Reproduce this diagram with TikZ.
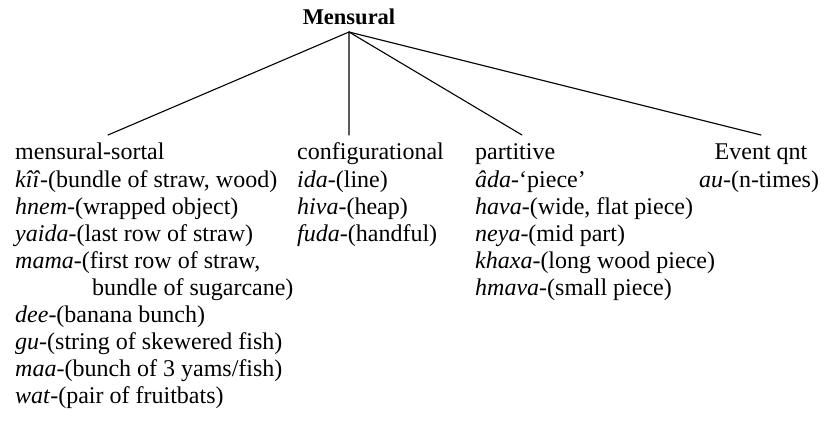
\documentclass[tikz,border=0pt]{standalone}
\usepackage{fontspec}
\setmainfont{Liberation Serif}
\begin{document}
\begin{tikzpicture}[x=1pt,y=-1pt,
  lbl/.style={anchor=base west,inner sep=0pt,font=\fontsize{24}{26}\selectfont},
  lblc/.style={anchor=base,inner sep=0pt,font=\fontsize{24}{26}\selectfont},
  branch/.style={line width=1.1pt,line cap=round}]
\useasboundingbox (0,0) rectangle (831,428);
\def\rs{27}
% root
\node[anchor=base,inner sep=0pt,font=\fontsize{22.5}{24}\selectfont\bfseries] (root) at (349,25) {Mensural};
\coordinate (apex) at (349,32);
% column 1
\node[lbl] (ms)  at (15,160) {mensural-sortal};
\node[lbl] (m1)  at (15,160+1*\rs) {\textit{kîî}-(bundle of straw, wood)};
\node[lbl] (m2)  at (15,160+2*\rs) {\textit{hnem}-(wrapped object)};
\node[lbl] (m3)  at (15,160+3*\rs) {\textit{yaida}-(last row of straw)};
\node[lbl] (m4)  at (15,160+4*\rs) {\textit{mama}-(first row of straw,};
\node[lbl] (m4b) at (92,160+5*\rs) {bundle of sugarcane)};
\node[lbl] (m5)  at (15,160+6*\rs) {\textit{dee}-(banana bunch)};
\node[lbl] (m6)  at (15,160+7*\rs) {\textit{gu}-(string of skewered fish)};
\node[lbl] (m7)  at (15,160+8*\rs) {\textit{maa}-(bunch of 3 yams/fish)};
\node[lbl] (m8)  at (15,160+9*\rs) {\textit{wat}-(pair of fruitbats)};
% column 2
\node[lbl] (cf)  at (297,160) {configurational};
\node[lbl] (c1)  at (297,160+1*\rs) {\textit{ida}-(line)};
\node[lbl] (c2)  at (297,160+2*\rs) {\textit{hiva}-(heap)};
\node[lbl] (c3)  at (297,160+3*\rs) {\textit{fuda}-(handful)};
% column 3
\node[lbl] (pt)  at (475,160) {partitive};
\node[lbl] (p1)  at (475,160+1*\rs) {\textit{âda}-‘piece’};
\node[lbl] (p2)  at (475,160+2*\rs) {\textit{hava}-(wide, flat piece)};
\node[lbl] (p3)  at (475,160+3*\rs) {\textit{neya}-(mid part)};
\node[lbl] (p4)  at (475,160+4*\rs) {\textit{khaxa}-(long wood piece)};
\node[lbl] (p5)  at (475,160+5*\rs) {\textit{hmava}-(small piece)};
% column 4
\node[lblc] (ev) at (761,160) {Event qnt};
\node[lblc] (e1) at (759,160+1*\rs) {\textit{au}-(n-times)};
% branch ends
\coordinate (t1) at (108,135);
\coordinate (t2) at (349,135);
\coordinate (t3) at (522,135);
\coordinate (t4) at (761,135);
\draw[branch] (t1) -- (apex) -- (t2);
\draw[branch] (apex) -- (t3);
\draw[branch] (apex) -- (t4);
\end{tikzpicture}
\end{document}
